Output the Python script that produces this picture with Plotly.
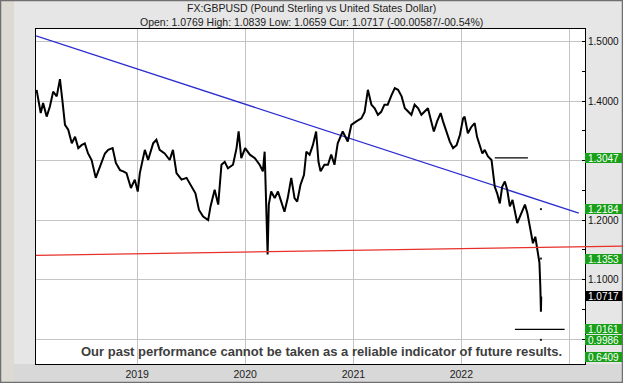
import plotly.graph_objects as go

# ---------------- data ----------------
dates = [
    "2018-01-26", "2018-01-31", "2018-02-09", "2018-02-17", "2018-03-01", "2018-03-12",
    "2018-03-23", "2018-04-04", "2018-04-15", "2018-04-23", "2018-05-02", "2018-05-13",
    "2018-05-25", "2018-06-05", "2018-06-16", "2018-06-27", "2018-07-08", "2018-07-19",
    "2018-07-31", "2018-08-14", "2018-08-28", "2018-09-14", "2018-09-25", "2018-10-10",
    "2018-10-21", "2018-11-04", "2018-11-15", "2018-11-26", "2018-12-11", "2018-12-24",
    "2019-01-03", "2019-01-10", "2019-01-27", "2019-02-07", "2019-02-24", "2019-03-07",
    "2019-03-18", "2019-04-04", "2019-04-21", "2019-05-02", "2019-05-14", "2019-05-31",
    "2019-06-17", "2019-07-04", "2019-07-17", "2019-07-29", "2019-08-12", "2019-08-29",
    "2019-09-06", "2019-09-20", "2019-10-02", "2019-10-13", "2019-10-24", "2019-11-04",
    "2019-11-21", "2019-12-03", "2019-12-10", "2019-12-19", "2020-01-01", "2020-01-17",
    "2020-02-03", "2020-02-19", "2020-03-01", "2020-03-07", "2020-03-10", "2020-03-17",
    "2020-03-21", "2020-03-29", "2020-04-10", "2020-04-21", "2020-05-02", "2020-05-13",
    "2020-05-24", "2020-06-05", "2020-06-16", "2020-06-25", "2020-07-06", "2020-07-18",
    "2020-07-26", "2020-08-06", "2020-08-17", "2020-08-28", "2020-09-05", "2020-09-12",
    "2020-09-25", "2020-10-07", "2020-10-18", "2020-10-29", "2020-11-09", "2020-11-26",
    "2020-12-13", "2020-12-25", "2021-01-11", "2021-01-28", "2021-02-08", "2021-02-19",
    "2021-03-03", "2021-03-14", "2021-03-25", "2021-04-05", "2021-04-16", "2021-04-27",
    "2021-05-10", "2021-05-21", "2021-06-01", "2021-06-13", "2021-06-24", "2021-07-05",
    "2021-07-16", "2021-07-27", "2021-08-08", "2021-08-19", "2021-08-30", "2021-09-10",
    "2021-09-21", "2021-09-30", "2021-10-11", "2021-10-23", "2021-10-31", "2021-11-12",
    "2021-11-23", "2021-12-04", "2021-12-16", "2021-12-27", "2022-01-07", "2022-01-12",
    "2022-01-23", "2022-02-04", "2022-02-15", "2022-02-23", "2022-03-04", "2022-03-13",
    "2022-03-21", "2022-04-01", "2022-04-13", "2022-04-18", "2022-04-24", "2022-05-02",
    "2022-05-11", "2022-05-19", "2022-05-28", "2022-06-05", "2022-06-14", "2022-06-23",
    "2022-07-01", "2022-07-09", "2022-07-18", "2022-07-27", "2022-08-04", "2022-08-12",
    "2022-08-21", "2022-08-31", "2022-09-08", "2022-09-16", "2022-09-22", "2022-09-25",
    "2022-09-27", "2022-09-28",
]
prices = [
    1.419, 1.402, 1.380, 1.397, 1.374, 1.391,
    1.416, 1.408, 1.437, 1.402, 1.360, 1.352,
    1.329, 1.340, 1.321, 1.326, 1.329, 1.312,
    1.301, 1.271, 1.290, 1.312, 1.318, 1.321,
    1.296, 1.284, 1.282, 1.279, 1.254, 1.268,
    1.248, 1.279, 1.318, 1.301, 1.329, 1.335,
    1.318, 1.312, 1.301, 1.318, 1.279, 1.268,
    1.271, 1.256, 1.245, 1.217, 1.206, 1.200,
    1.223, 1.251, 1.226, 1.293, 1.298, 1.287,
    1.293, 1.321, 1.349, 1.304, 1.321, 1.310,
    1.304, 1.293, 1.282, 1.315, 1.259, 1.142,
    1.226, 1.248, 1.237, 1.248, 1.231, 1.214,
    1.237, 1.271, 1.237, 1.231, 1.259, 1.276,
    1.315, 1.310, 1.326, 1.349, 1.298, 1.282,
    1.293, 1.293, 1.310, 1.293, 1.329, 1.349,
    1.332, 1.360, 1.366, 1.371, 1.382, 1.419,
    1.394, 1.388, 1.377, 1.382, 1.394, 1.394,
    1.410, 1.422, 1.419, 1.408, 1.388, 1.382,
    1.377, 1.394, 1.388, 1.377, 1.382, 1.388,
    1.366, 1.349, 1.366, 1.380, 1.366, 1.349,
    1.332, 1.321, 1.326, 1.343, 1.371, 1.374,
    1.346, 1.357, 1.363, 1.340, 1.324, 1.312,
    1.318, 1.307, 1.301, 1.284, 1.256, 1.245,
    1.228, 1.256, 1.265, 1.251, 1.223, 1.234,
    1.217, 1.195, 1.206, 1.217, 1.226, 1.212,
    1.189, 1.161, 1.172, 1.150, 1.128, 1.088,
    1.046, 1.0717,
]

blue_dates = ["2018-01-24", "2023-02-02"]
blue_values = [1.5097, 1.2117]

red_values = [1.1408, 1.1562]

upper_seg_dates = ["2022-04-24", "2022-08-14"]
upper_seg_value = 1.3047
lower_seg_dates = ["2022-07-01", "2022-12-16"]
lower_seg_value = 1.0161

target_date = "2022-09-27"
target_dots = [1.2184, 1.1353, 0.9986]

green_labels = [1.3047, 1.2184, 1.1353, 1.0161, 0.9986]
current_label = 1.0717
offscale_label = 0.6409

y_tick_vals = [1.0, 1.1, 1.2, 1.3, 1.4, 1.5]
y_tick_text = ["", "1.1000", "1.2000", "", "1.4000", "1.5000"]
x_tick_vals = ["2019-01-01", "2020-01-01", "2021-01-01", "2022-01-01", "2023-01-01"]
x_tick_text = ["2019", "2020", "2021", "2022", ""]

title1 = "FX:GBPUSD (Pound Sterling vs United States Dollar)"
title2 = "Open: 1.0769 High: 1.0839 Low: 1.0659 Cur: 1.0717 (-00.00587/-00.54%)"
disclaimer = "Our past performance cannot be taken as a reliable indicator of future results."

# ---------------- figure ----------------
W, H = 623, 383
L, R, T, B = 36, 38, 29, 19
PW, PH = W - L - R, H - T - B
FONT = "Liberation Sans, Arial, sans-serif"
GREEN = "#18a018"

fig = go.Figure()

fig.add_trace(go.Scatter(x=blue_dates, y=blue_values, mode="lines",
                         line=dict(color="#2b2bd0", width=1.3), hoverinfo="skip"))
fig.add_trace(go.Scatter(x=dates, y=prices, mode="lines",
                         line=dict(color="black", width=2.0), hoverinfo="skip"))
fig.add_trace(go.Scatter(x=upper_seg_dates, y=[upper_seg_value] * 2, mode="lines",
                         line=dict(color="black", width=1.2), hoverinfo="skip"))
fig.add_trace(go.Scatter(x=lower_seg_dates, y=[lower_seg_value] * 2, mode="lines",
                         line=dict(color="black", width=1.2), hoverinfo="skip"))
fig.add_trace(go.Scatter(x=[target_date] * len(target_dots), y=target_dots, mode="markers",
                         marker=dict(symbol="square", size=2, color="#222"), hoverinfo="skip"))

shapes = []
px_x = 1.0 / PW
px_y = 1.0 / PH
# frame pieces
shapes.append(dict(type="rect", xref="paper", yref="paper", layer="below",
                   x0=-L * px_x, x1=1 + R * px_x, y0=-B * px_y, y1=0,
                   fillcolor="#d8d8d8", line=dict(width=0)))
shapes.append(dict(type="rect", xref="paper", yref="paper", layer="below",
                   x0=-L * px_x, x1=-(L - 14) * px_x, y0=-B * px_y, y1=1 + T * px_y,
                   fillcolor="#dcdad2", line=dict(width=0)))
shapes.append(dict(type="rect", xref="paper", yref="paper", layer="above",
                   x0=-L * px_x + 0.5 * px_x, x1=1 + R * px_x - 0.5 * px_x,
                   y0=-B * px_y + 0.5 * px_y, y1=1 + T * px_y - 0.5 * px_y,
                   fillcolor="rgba(0,0,0,0)", line=dict(color="#6f6f6f", width=1.5)))
# red line (extends into right label panel)
shapes.append(dict(type="line", xref="paper", yref="y", layer="above",
                   x0=0, x1=(W - L) / PW, y0=red_values[0], y1=red_values[1],
                   line=dict(color="#e8302a", width=1.3)))

annotations = [
    dict(text=title1, xref="paper", yref="paper", x=(W / 2 - L) / PW, y=1 + (T - 7.5) * px_y,
         showarrow=False, xanchor="center", yanchor="middle",
         font=dict(family=FONT, size=10.5, color="#222")),
    dict(text=title2, xref="paper", yref="paper", x=(W / 2 - L) / PW, y=1 + (T - 22.5) * px_y,
         showarrow=False, xanchor="center", yanchor="middle",
         font=dict(family=FONT, size=10.5, color="#222")),
    dict(text=disclaimer, xref="paper", yref="paper", x=(321.5 - L) / PW, y=(364 - 351.5) * px_y,
         showarrow=False, xanchor="center", yanchor="middle",
         font=dict(family=FONT, size=13, color="#3e3e3e", weight="bold")),
]
for v in green_labels:
    annotations.append(dict(text=f"{v:.4f}", xref="paper", yref="y", x=1.0, y=v,
                            xanchor="left", yanchor="middle", showarrow=False,
                            bgcolor=GREEN, width=37, height=10, borderpad=0, borderwidth=0,
                            font=dict(family=FONT, size=10, color="white")))
annotations.append(dict(text=f"{current_label:.4f}", xref="paper", yref="y", x=1.0, y=current_label,
                        xanchor="left", yanchor="middle", showarrow=False,
                        bgcolor="black", width=37, height=10, borderpad=0, borderwidth=0,
                        font=dict(family=FONT, size=10, color="white")))
annotations.append(dict(text=f"{offscale_label:.4f}", xref="paper", yref="paper", x=1.0,
                        y=(364.3 - 357.5) * px_y,
                        xanchor="left", yanchor="middle", showarrow=False,
                        bgcolor=GREEN, width=37, height=10, borderpad=0, borderwidth=0,
                        font=dict(family=FONT, size=10, color="white")))

fig.update_layout(
    width=W, height=H,
    margin=dict(l=L, r=R, t=T, b=B, pad=0, autoexpand=False),
    paper_bgcolor="#e6e6e6",
    plot_bgcolor="white",
    showlegend=False,
    shapes=shapes,
    annotations=annotations,
    xaxis=dict(type="date", range=["2018-01-24", "2023-02-23"],
               tickvals=x_tick_vals, ticktext=x_tick_text,
               showgrid=True, gridcolor="#c4c4c4", gridwidth=1,
               showline=True, linecolor="black", linewidth=1, mirror=True,
               ticks="", tickfont=dict(family=FONT, size=10.5, color="#222"),
               zeroline=False, fixedrange=True, automargin=False),
    yaxis=dict(range=[0.958, 1.5213], side="right",
               tickvals=y_tick_vals, ticktext=y_tick_text,
               showgrid=True, gridcolor="#c4c4c4", gridwidth=1,
               showline=True, linecolor="black", linewidth=1, mirror=True,
               ticks="inside", ticklen=3, tickcolor="black",
               minor=dict(dtick=0.05, tick0=0, ticks="inside", ticklen=3,
                          tickcolor="black", showgrid=False),
               tickfont=dict(family=FONT, size=10, color="#111"),
               zeroline=False, fixedrange=True, automargin=False),
)

fig.write_html("out.html", config={"displayModeBar": False},
               post_script="document.body.style.margin='0';document.body.style.padding='0';")
